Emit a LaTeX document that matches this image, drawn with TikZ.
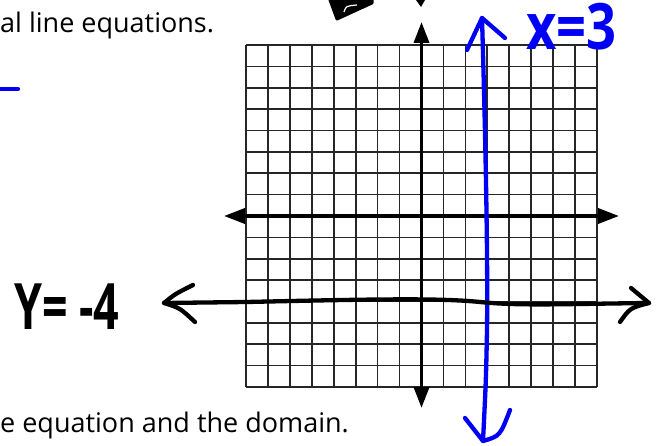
\documentclass[tikz,border=0pt]{standalone}
\usepackage{fontspec}
\setmainfont{Open Sans}
\usetikzlibrary{arrows.meta}
\definecolor{inkblue}{RGB}{0,0,245}
\tikzset{
  gridln/.style = {draw=black!85, line width=1.7pt},
  axisln/.style = {draw=black, line width=3.6pt,
                   {Triangle[length=21pt,width=15pt]}-{Triangle[length=21pt,width=15pt]}},
  ink/.style    = {line width=4.3pt, line cap=round, line join=round},
  txt/.style    = {font=\fontsize{27}{32}\selectfont, inner sep=0pt}
}

\begin{document}
\begin{tikzpicture}[
    x=1pt, y=-1pt,
    handlab/.style={font=\fontsize{64}{70}\selectfont\bfseries, inner sep=0pt},
    blueink/.style={ink, draw=inkblue},
    blackink/.style={ink, draw=black}
  ]
  \useasboundingbox (0,0) rectangle (663,446);
  % ===================== 网格 16 x 16 =====================
  \foreach \i in {0,...,16} {
    \draw[gridln] ({246+\i*21.94},45) -- ({246+\i*21.94},387);
    \draw[gridln] (246,{45+\i*21.375}) -- (597,{45+\i*21.375});
  }

  % ===================== 坐标轴 =====================
  \draw[axisln] (421.5,22) -- (421.5,408);
  \draw[axisln] (224,216) -- (619,216);

  % ===================== 题面残句 =====================
  \node[txt, anchor=base west] (head) at (0,33) {al line equations.};
  \node[txt, anchor=base west] (foot) at (0,432) {e equation and the domain.};

  % ===================== 顶部残缺笔迹 =====================
  \fill[black, line join=round, draw=black, line width=3pt]
    (330,0) -- (337,19) -- (372,3) -- (372,0) -- cycle;
  \draw[white, line width=1.2pt] (344,12) .. controls (346,6) .. (357,5);
  \fill[black] (416,0) -- (425,0) -- (421,7) -- cycle;
  \draw[blueink] (0,89) -- (18,89);

  % ===================== x = 3 =====================
  \draw[blueink] (482,18) .. controls (485,120) and (488,250) .. (487,330)
                 .. controls (486,380) .. (483,441);
  \draw[blueink] (467,50) -- (482,18) -- (505,38);
  \draw[blueink] (465,418) -- (483,441) .. controls (500,436) .. (510,410);
  \node[handlab, text=inkblue, anchor=base west, xscale=0.82] (xlab) at (526,50) {x=3};

  % ===================== y = -4 =====================
  \draw[blackink] (164,303) -- (246,302) .. controls (380,299) and (440,298) .. (480,302)
                  .. controls (520,306) and (560,304) .. (649,303);
  \draw[blackink] (193,285) .. controls (175,294) .. (164,303)
                  .. controls (180,308) .. (195,322);
  \draw[blackink] (631,288) -- (649,303) .. controls (630,308) .. (620,322);
  \node[handlab, anchor=base west, xscale=0.7] (ylab) at (14,329) {Y= -4};
\end{tikzpicture}
\end{document}
